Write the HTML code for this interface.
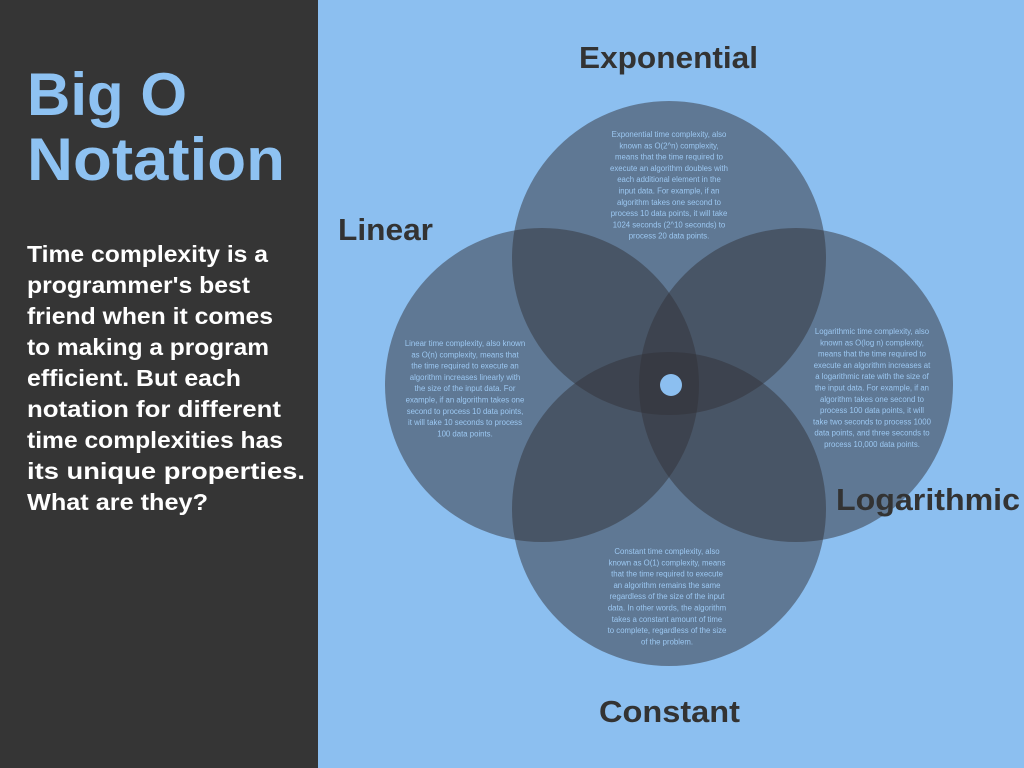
<!DOCTYPE html>
<html><head><meta charset="utf-8"><style>
html,body{margin:0;padding:0;width:1024px;height:768px;overflow:hidden;background:#8cbff0}
svg{display:block}
.s{font-family:"Liberation Sans",sans-serif;font-size:7.8px;fill:#9cc8f2;text-anchor:middle}
.l{font-family:"Liberation Sans",sans-serif;font-weight:bold;font-size:31px;fill:#333}
.b{font-family:"Liberation Sans",sans-serif;font-weight:bold;font-size:23px;fill:#fff}
</style></head><body>
<svg width="1024" height="768" viewBox="0 0 1024 768">
<rect x="0" y="0" width="1024" height="768" fill="#8cbff0"/>
<rect x="0" y="0" width="318" height="768" fill="#353535"/>
<text x="27" y="115" font-family="Liberation Sans,sans-serif" font-weight="bold" font-size="60" fill="#8ec2f2" textLength="160" lengthAdjust="spacingAndGlyphs">Big O</text>
<text x="27" y="180" font-family="Liberation Sans,sans-serif" font-weight="bold" font-size="60" fill="#8ec2f2" textLength="258" lengthAdjust="spacingAndGlyphs">Notation</text>
<text x="27" y="262" class="b" textLength="241" lengthAdjust="spacingAndGlyphs">Time complexity is a</text>
<text x="27" y="293" class="b" textLength="223" lengthAdjust="spacingAndGlyphs">programmer's best</text>
<text x="27" y="324" class="b" textLength="246" lengthAdjust="spacingAndGlyphs">friend when it comes</text>
<text x="27" y="355" class="b" textLength="242" lengthAdjust="spacingAndGlyphs">to making a program</text>
<text x="27" y="386" class="b" textLength="214" lengthAdjust="spacingAndGlyphs">efficient. But each</text>
<text x="27" y="417" class="b" textLength="254" lengthAdjust="spacingAndGlyphs">notation for different</text>
<text x="27" y="448" class="b" textLength="256" lengthAdjust="spacingAndGlyphs">time complexities has</text>
<text x="27" y="479" class="b" textLength="278" lengthAdjust="spacingAndGlyphs">its unique properties.</text>
<text x="27" y="510" class="b" textLength="181" lengthAdjust="spacingAndGlyphs">What are they?</text>
<g fill="rgb(50,50,56)" fill-opacity="0.5">
<circle cx="669" cy="258" r="157"/>
<circle cx="542" cy="385" r="157"/>
<circle cx="796" cy="385" r="157"/>
<circle cx="669" cy="509" r="157"/>
</g>
<circle cx="671" cy="385" r="11" fill="#8cbff0"/>
<text x="579" y="68" class="l" textLength="179" lengthAdjust="spacingAndGlyphs">Exponential</text>
<text x="338" y="240" class="l" textLength="95" lengthAdjust="spacingAndGlyphs">Linear</text>
<text x="836" y="510" class="l" textLength="184" lengthAdjust="spacingAndGlyphs">Logarithmic</text>
<text x="599" y="722" class="l" textLength="141" lengthAdjust="spacingAndGlyphs">Constant</text>
<g class="s">
<text x="669" y="137">Exponential time complexity, also</text>
<text x="669" y="148.3">known as O(2^n) complexity,</text>
<text x="669" y="159.6">means that the time required to</text>
<text x="669" y="170.9">execute an algorithm doubles with</text>
<text x="669" y="182.2">each additional element in the</text>
<text x="669" y="193.5">input data. For example, if an</text>
<text x="669" y="204.8">algorithm takes one second to</text>
<text x="669" y="216.1">process 10 data points, it will take</text>
<text x="669" y="227.4">1024 seconds (2^10 seconds) to</text>
<text x="669" y="238.7">process 20 data points.</text>
</g>
<g class="s">
<text x="465" y="346">Linear time complexity, also known</text>
<text x="465" y="357.3">as O(n) complexity, means that</text>
<text x="465" y="368.6">the time required to execute an</text>
<text x="465" y="379.9">algorithm increases linearly with</text>
<text x="465" y="391.2">the size of the input data. For</text>
<text x="465" y="402.5">example, if an algorithm takes one</text>
<text x="465" y="413.8">second to process 10 data points,</text>
<text x="465" y="425.1">it will take 10 seconds to process</text>
<text x="465" y="436.4">100 data points.</text>
</g>
<g class="s">
<text x="872" y="334">Logarithmic time complexity, also</text>
<text x="872" y="345.3">known as O(log n) complexity,</text>
<text x="872" y="356.6">means that the time required to</text>
<text x="872" y="367.9">execute an algorithm increases at</text>
<text x="872" y="379.2">a logarithmic rate with the size of</text>
<text x="872" y="390.5">the input data. For example, if an</text>
<text x="872" y="401.8">algorithm takes one second to</text>
<text x="872" y="413.1">process 100 data points, it will</text>
<text x="872" y="424.4">take two seconds to process 1000</text>
<text x="872" y="435.7">data points, and three seconds to</text>
<text x="872" y="447">process 10,000 data points.</text>
</g>
<g class="s">
<text x="667" y="554">Constant time complexity, also</text>
<text x="667" y="565.3">known as O(1) complexity, means</text>
<text x="667" y="576.6">that the time required to execute</text>
<text x="667" y="587.9">an algorithm remains the same</text>
<text x="667" y="599.2">regardless of the size of the input</text>
<text x="667" y="610.5">data. In other words, the algorithm</text>
<text x="667" y="621.8">takes a constant amount of time</text>
<text x="667" y="633.1">to complete, regardless of the size</text>
<text x="667" y="644.4">of the problem.</text>
</g>
</svg>
</body></html>
